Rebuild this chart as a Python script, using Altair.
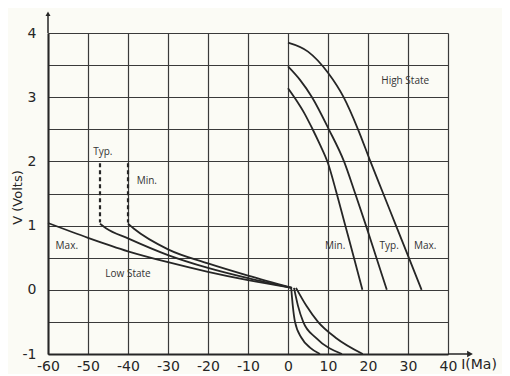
import altair as alt
import pandas as pd

# ---- curve data: current I (mA) and voltage V (volts) ----
high_min_i = [0, 2, 4, 6, 8, 10, 12, 14.2, 16.4, 18.6]
high_min_v = [3.14, 2.96, 2.76, 2.52, 2.26, 1.97, 1.54, 1.03, 0.52, 0.0]
high_typ_i = [0, 3, 6, 10.2, 14, 16.8, 19.5, 22.1, 24.7]
high_typ_v = [3.48, 3.27, 3.0, 2.5, 2.0, 1.5, 1.0, 0.5, 0.0]
high_max_i = [0, 5, 10, 13.9, 17.5, 20.6, 23.8, 27, 30.2, 33.4]
high_max_v = [3.85, 3.71, 3.38, 3.0, 2.5, 2.0, 1.5, 1.0, 0.5, 0.0]

low_max_i = [-60, -50, -40, -30, -20, -10, 1]
low_max_v = [1.04, 0.81, 0.6, 0.43, 0.28, 0.15, 0.03]
low_typ_i = [-47, -45.5, -40, -30, -20, -10, 1]
low_typ_v = [1.03, 0.96, 0.8, 0.54, 0.34, 0.18, 0.03]
low_min_i = [-40, -38.5, -30, -20, -10, 1]
low_min_v = [1.03, 0.95, 0.63, 0.41, 0.22, 0.03]

dash_typ_i = [-47, -47]
dash_typ_v = [1.97, 1.05]
dash_min_i = [-40, -40]
dash_min_v = [1.97, 1.05]

neg_a_i = [0.8, 1.2, 1.75, 3.4, 5.5, 8]
neg_a_v = [0.03, -0.25, -0.5, -0.75, -0.9, -1.0]
neg_b_i = [1.5, 2.5, 3.8, 7, 13.5]
neg_b_v = [0.03, -0.25, -0.5, -0.75, -1.0]
neg_c_i = [2.0, 4.6, 7.5, 12, 18.7]
neg_c_v = [0.03, -0.25, -0.5, -0.75, -1.0]

# ---- annotations ----
ann_text = ["Typ.", "Min.", "Max.", "Low State", "High State", "Min.", "Typ.", "Max."]
ann_i = [-46.3, -35.3, -55.3, -40, 29.3, 11.8, 25.3, 34.3]
ann_v = [2.14, 1.7, 0.69, 0.25, 3.25, 0.69, 0.69, 0.69]

x_ticks = [-60, -50, -40, -30, -20, -10, 0, 10, 20, 30, 40]
y_ticks = [-1, -0.5, 0, 0.5, 1, 1.5, 2, 2.5, 3, 3.5, 4]


def frame(name, xs, ys):
    return pd.DataFrame({"series": name, "I": xs, "V": ys, "idx": range(len(xs))})


solid = pd.concat([
    frame("high_min", high_min_i, high_min_v),
    frame("high_typ", high_typ_i, high_typ_v),
    frame("high_max", high_max_i, high_max_v),
    frame("low_max", low_max_i, low_max_v),
    frame("low_typ", low_typ_i, low_typ_v),
    frame("low_min", low_min_i, low_min_v),
    frame("neg_a", neg_a_i, neg_a_v),
    frame("neg_b", neg_b_i, neg_b_v),
    frame("neg_c", neg_c_i, neg_c_v),
])
dashed = pd.concat([
    frame("dash_typ", dash_typ_i, dash_typ_v),
    frame("dash_min", dash_min_i, dash_min_v),
])
ann = pd.DataFrame({"text": ann_text, "I": ann_i, "V": ann_v})

INK = "#262626"
TICK_FONT = "DejaVu Sans"

xscale = alt.Scale(domain=[-60, 40], nice=False, zero=False)
yscale = alt.Scale(domain=[-1, 4], nice=False, zero=False)

xaxis = alt.Axis(values=x_ticks, grid=True, gridColor="#3a3a3a", gridWidth=1.2, gridOpacity=1,
                 ticks=False, domain=True, domainColor=INK, domainWidth=2,
                 labelFont=TICK_FONT, labelFontSize=14, labelColor=INK, labelPadding=5,
                 labelOverlap=False, labelFlush=False,
                 labelExpr="toString(datum.value)", title=None)
yaxis = alt.Axis(values=y_ticks, grid=True, gridColor="#3a3a3a", gridWidth=1.2, gridOpacity=1,
                 ticks=False, domain=True, domainColor=INK, domainWidth=2,
                 labelFont=TICK_FONT, labelFontSize=14, labelColor=INK, labelPadding=12,
                 labelOverlap=False, labelFlush=False,
                 labelExpr="datum.value % 1 == 0 ? toString(datum.value) : ''",
                 title="V (Volts)", titleFont=TICK_FONT, titleFontSize=13, titleFontWeight="normal",
                 titleColor=INK, titleX=-24, titleY=164, titleAngle=-90)


def X(field):
    return alt.X(field, scale=xscale, axis=xaxis)


def Y(field):
    return alt.Y(field, scale=yscale, axis=yaxis)


lines = alt.Chart(solid).mark_line(interpolate="monotone", color=INK, strokeWidth=1.8).encode(
    x=X("I:Q"), y=Y("V:Q"), detail="series:N", order="idx:Q",
)

dash_lines = alt.Chart(dashed).mark_line(color=INK, strokeWidth=2.2, strokeDash=[4, 3]).encode(
    x=X("I:Q"), y=Y("V:Q"), detail="series:N", order="idx:Q"
)

labels = alt.Chart(ann).mark_text(font="Open Sans", fontSize=10, color="#333", align="center",
                                  baseline="middle").encode(
    x=X("I:Q"), y=Y("V:Q"), text="text:N"
)

# axis arrows
arrow_df = pd.DataFrame({"x1": [40, -60], "x2": [45.5, -60], "y1": [-1, 4], "y2": [-1, 4.3]})
arrow_lines = alt.Chart(arrow_df).mark_rule(color=INK, strokeWidth=1.5).encode(
    x=X("x1:Q"), x2="x2:Q", y=Y("y1:Q"), y2="y2:Q"
)
head_right = alt.Chart(pd.DataFrame({"I": [45.5], "V": [-1]})).mark_point(
    shape="triangle-right", filled=True, color=INK, size=45, opacity=1).encode(x=X("I:Q"), y=Y("V:Q"))
head_up = alt.Chart(pd.DataFrame({"I": [-60], "V": [4.3]})).mark_point(
    shape="triangle-up", filled=True, color=INK, size=25, opacity=1).encode(x=X("I:Q"), y=Y("V:Q"))

unit = alt.Chart(pd.DataFrame({"I": [43.3], "V": [-1.17], "t": ["I(Ma)"]})).mark_text(
    font=TICK_FONT, fontSize=14, color=INK, align="left", baseline="middle").encode(
    x=X("I:Q"), y=Y("V:Q"), text="t:N")

chart = alt.layer(lines, dash_lines, labels, arrow_lines, head_right, head_up, unit).properties(
    width=400, height=321,
    autosize=alt.AutoSizeParams(type="none"),
    padding={"left": 40, "top": 25, "right": 54, "bottom": 20},
    background="#fbfbf5",
).configure_view(stroke=None)

chart.save("out.html", embed_options={"renderer": "svg", "actions": False})
